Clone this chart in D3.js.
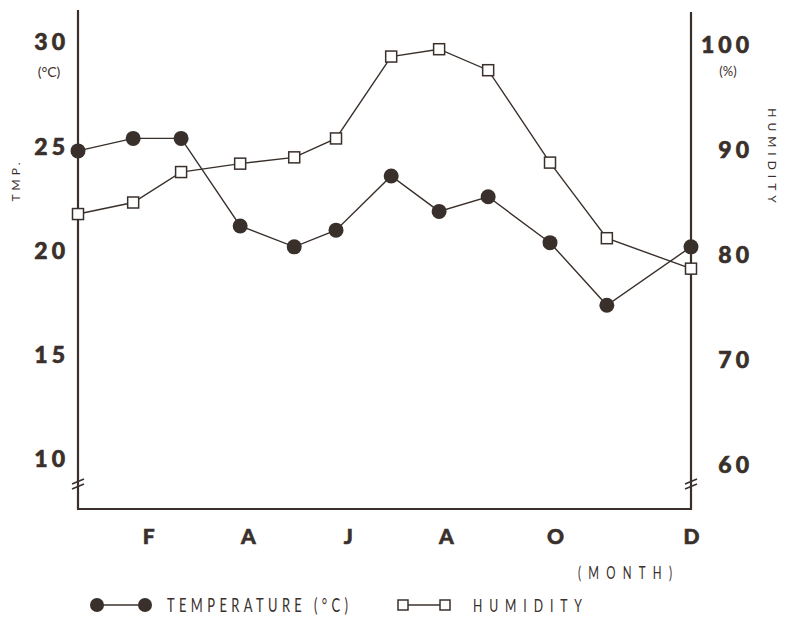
<!DOCTYPE html>
<html lang="en">
<head>
  <meta charset="UTF-8">
  <title>Temperature and humidity</title>
  <script src="https://d3js.org/d3.v7.min.js"></script>
  <style>
    * { margin: 0; padding: 0; }
    body { background-color: #fff; }
    svg { display: block; font-family: Lato, "Open Sans", sans-serif; }
    .tick text { fill: #3a302b; font-weight: 900; }
  </style>
</head>
<body>
  <svg id="chart" width="785" height="622"></svg>

  <script>
    // data (Jan..Dec)
    var months = ["J", "F", "M", "A", "M", "J", "J", "A", "S", "O", "N", "D"];
    // where each monthly point sits along the month axis (hand drawn, not evenly spaced)
    var monthPos = [1.0, 1.99, 2.85, 3.91, 4.88, 5.63, 6.62, 7.48, 8.36, 9.47, 10.49, 12.0];
    var temperature = [24.8, 25.4, 25.4, 21.2, 20.2, 21.0, 23.6, 21.9, 22.6, 20.4, 17.4, 20.2];
    var humidity = [83.9, 85.0, 87.9, 88.7, 89.3, 91.1, 98.9, 99.6, 97.6, 88.8, 81.6, 78.7];

    var monthLabels = ["F", "A", "J", "A", "O", "D"];
    var monthLabelPos = [2.26, 4.05, 5.84, 7.6, 9.56, 12.0];
    var tempTicks = [10, 15, 20, 25, 30];
    var humTicks = [60, 70, 80, 90, 100];

    var ink = "#3a302b";
    var svg = d3.select("#chart");

    var left = 78, right = 691, bottom = 509;
    var x = d3.scaleLinear().domain([1, 12]).range([left, right]);
    var yT = d3.scaleLinear().domain([10, 30]).range([459.5, 42.5]);
    var yH = d3.scaleLinear().domain([60, 100]).range([465, 45]);

    // condensed, letter-spaced caption text (squeezed horizontally)
    function caption(px, py, size, width, str) {
      var squeeze = 0.68;
      svg.append("g").attr("transform", "translate(" + px + "," + py + ") scale(" + squeeze + ",1)")
        .append("text").attr("font-size", size)
        .attr("textLength", width / squeeze).attr("lengthAdjust", "spacing")
        .attr("fill", ink).text(str);
    }

    // axes frame
    svg.append("path")
      .attr("d", "M" + left + ",10V" + bottom + "H" + right + "V12")
      .attr("fill", "none").attr("stroke", ink).attr("stroke-width", 2.2);

    // break marks
    [left, right].forEach(function(bx) {
      [0, 5].forEach(function(off) {
        svg.append("line")
          .attr("x1", bx - 6).attr("y1", 484 + off)
          .attr("x2", bx + 6).attr("y2", 479 + off)
          .attr("stroke", ink).attr("stroke-width", 1.6);
      });
    });

    // tick labels
    var gl = svg.append("g").attr("transform", "translate(" + left + ",0)")
      .call(d3.axisLeft(yT).tickValues(tempTicks).tickSize(0).tickPadding(13));
    var gr = svg.append("g").attr("transform", "translate(" + right + ",0)")
      .call(d3.axisRight(yH).tickValues(humTicks).tickSize(0).tickPadding(12));
    gr.selectAll(".tick text").attr("text-anchor", "end").attr("x", 62);
    var gb = svg.append("g").attr("transform", "translate(0," + bottom + ")")
      .call(d3.axisBottom(x).tickValues(monthLabelPos).tickSize(0).tickPadding(20)
        .tickFormat(function(d, i) { return monthLabels[i]; }));
    [gl, gr, gb].forEach(function(g) {
      g.select(".domain").remove();
      g.selectAll(".tick text").attr("font-size", 23).attr("letter-spacing", 4)
        .attr("stroke", ink).attr("stroke-width", 0.6)
        .style("font-family", "Lato, sans-serif");
    });
    gl.selectAll(".tick text").attr("dx", 4);
    gb.selectAll(".tick text").attr("letter-spacing", 0).attr("font-size", 21);

    // unit labels
    svg.append("text").attr("x", 49).attr("y", 77).attr("text-anchor", "middle")
      .attr("font-size", 14).attr("fill", ink).text("(°C)");
    svg.append("text").attr("x", 728).attr("y", 76).attr("text-anchor", "middle")
      .attr("font-size", 13).attr("fill", ink).text("(%)");
    svg.append("text").attr("transform", "translate(20,180) rotate(-90)")
      .attr("text-anchor", "middle").attr("font-size", 12).attr("letter-spacing", 4)
      .attr("fill", ink).text("TMP.");
    svg.append("text").attr("transform", "translate(768,158) rotate(90)")
      .attr("text-anchor", "middle").attr("font-size", 12).attr("letter-spacing", 5)
      .attr("fill", ink).text("HUMIDITY");
    caption(578, 579, 17, 94, "(MONTH)");

    // series
    var tempLine = d3.line().x(function(d, i) { return x(monthPos[i]); }).y(function(d) { return yT(d); });
    var humLine = d3.line().x(function(d, i) { return x(monthPos[i]); }).y(function(d) { return yH(d); });

    svg.append("path").datum(humidity).attr("d", humLine)
      .attr("fill", "none").attr("stroke", ink).attr("stroke-width", 1.4);
    svg.append("path").datum(temperature).attr("d", tempLine)
      .attr("fill", "none").attr("stroke", ink).attr("stroke-width", 1.4);

    svg.selectAll(".hum").data(humidity).enter().append("rect")
      .attr("x", function(d, i) { return x(monthPos[i]) - 5.5; })
      .attr("y", function(d) { return yH(d) - 5.5; })
      .attr("width", 11).attr("height", 11)
      .attr("fill", "#fff").attr("stroke", ink).attr("stroke-width", 1.5);
    svg.selectAll(".temp").data(temperature).enter().append("circle")
      .attr("cx", function(d, i) { return x(monthPos[i]); })
      .attr("cy", function(d) { return yT(d); })
      .attr("r", 7.5).attr("fill", ink);

    // legend
    var ly = 605;
    svg.append("line").attr("x1", 97).attr("x2", 145).attr("y1", ly).attr("y2", ly)
      .attr("stroke", ink).attr("stroke-width", 1.6);
    svg.selectAll(".lc").data([97, 145]).enter().append("circle")
      .attr("cx", function(d) { return d; }).attr("cy", ly).attr("r", 7).attr("fill", ink);
    caption(167, ly + 7, 19, 181, "TEMPERATURE (°C)");

    svg.append("line").attr("x1", 403).attr("x2", 445).attr("y1", ly).attr("y2", ly)
      .attr("stroke", ink).attr("stroke-width", 1.6);
    svg.selectAll(".ls").data([403, 445]).enter().append("rect")
      .attr("x", function(d) { return d - 5; }).attr("y", ly - 5)
      .attr("width", 10).attr("height", 10)
      .attr("fill", "#fff").attr("stroke", ink).attr("stroke-width", 1.5);
    caption(473, ly + 7, 18, 109, "HUMIDITY");
  </script>
</body>
</html>
